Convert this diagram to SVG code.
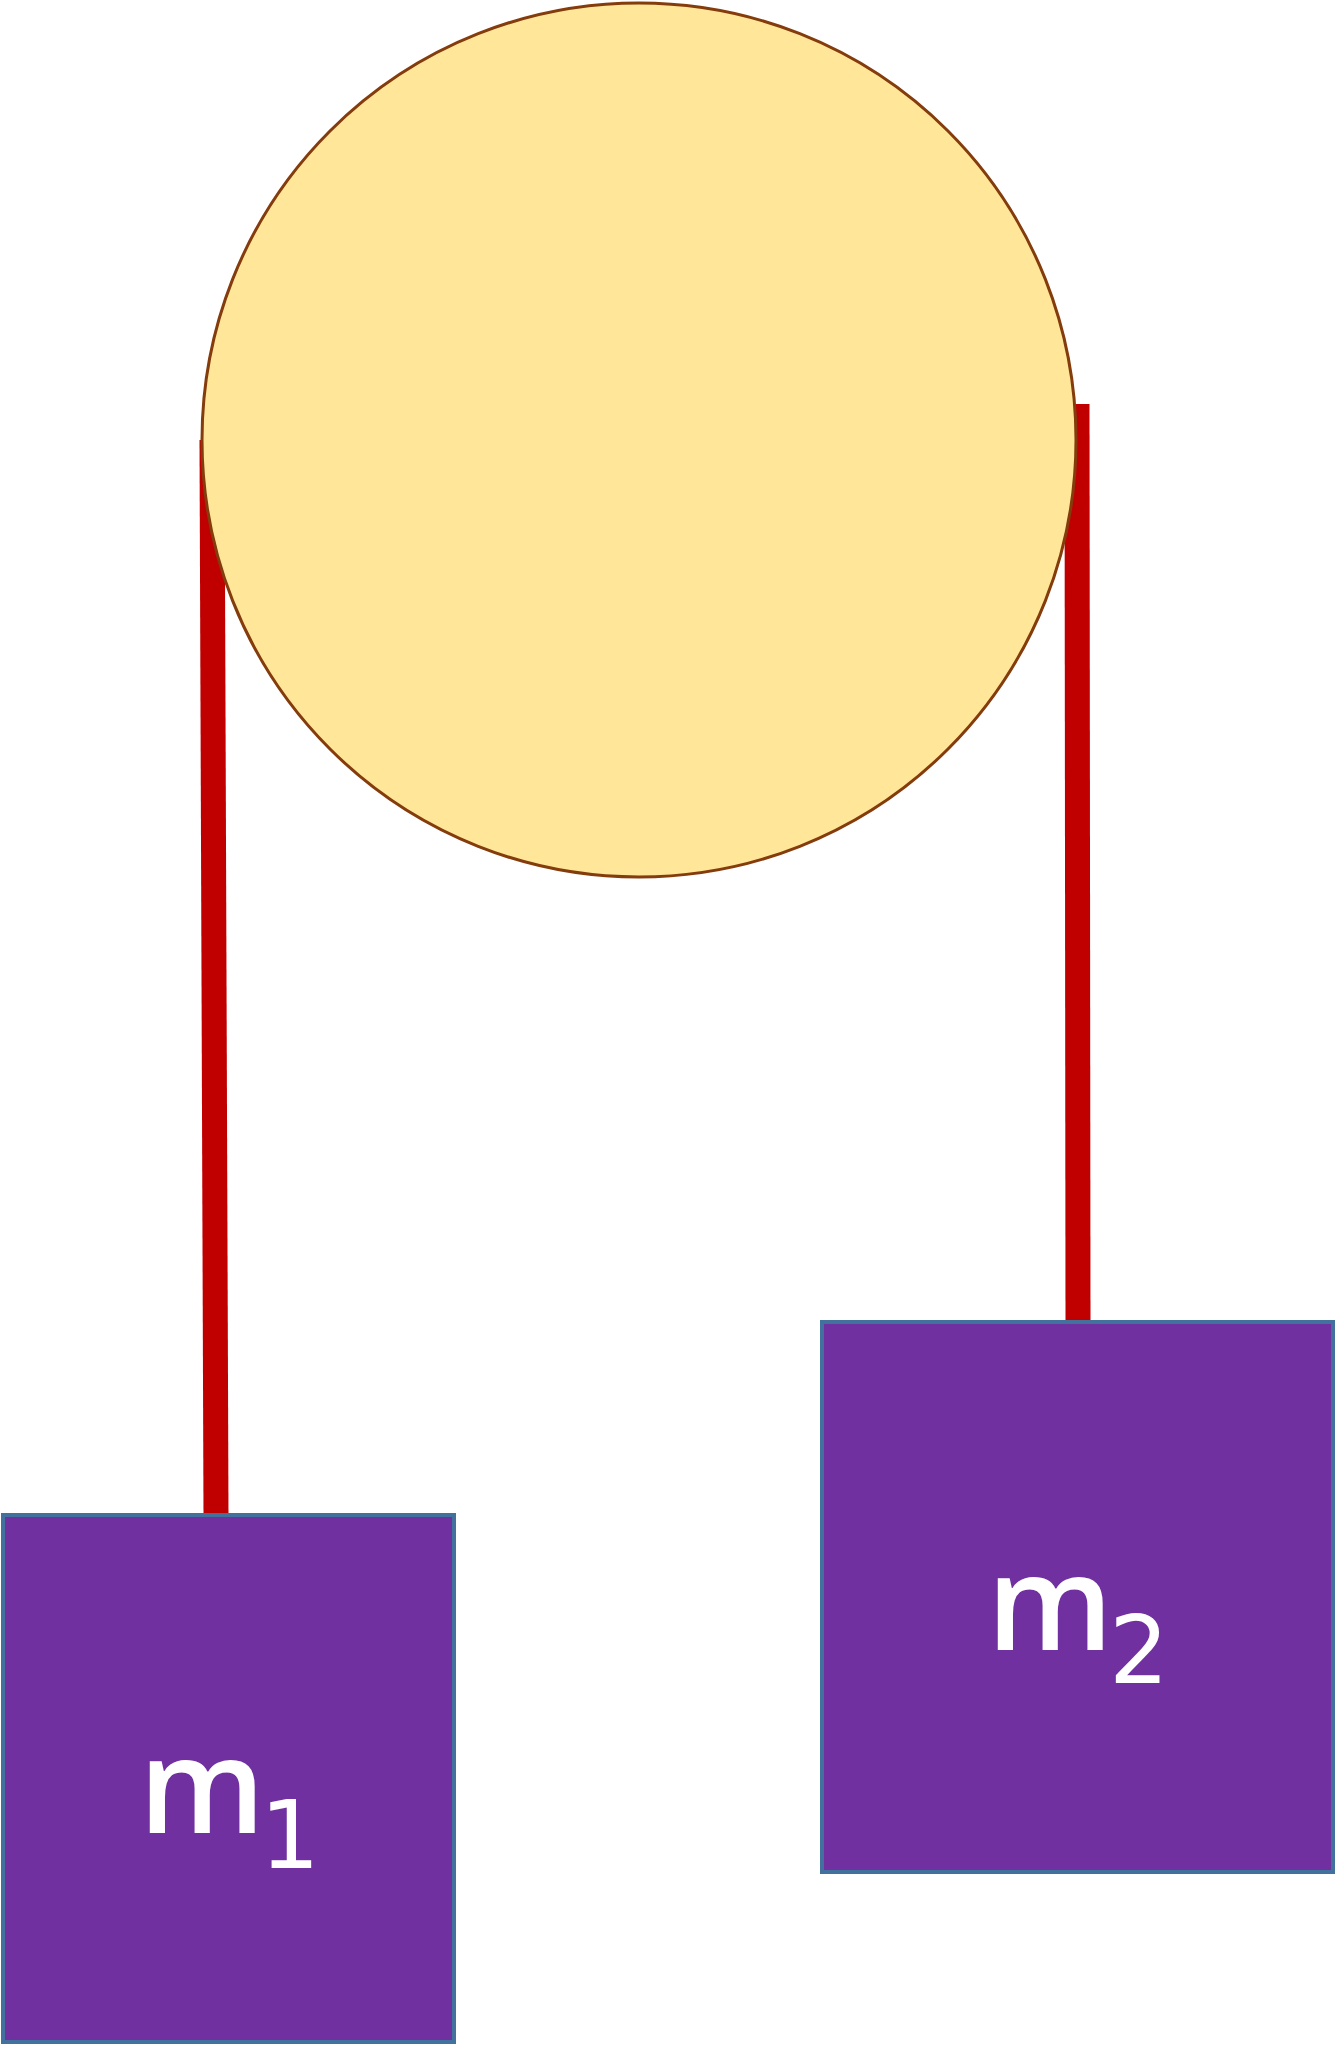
<svg xmlns="http://www.w3.org/2000/svg" width="1336" height="2046" viewBox="0 0 1336 2046">
<style>
.rope{stroke:#C00000;stroke-width:25;stroke-linecap:butt;fill:none}
.mass{fill:#7030A0;stroke:#41719C;stroke-width:4}
.lbl{font-family:"Open Sans","Liberation Sans",sans-serif;font-size:132px;font-weight:600;fill:#FFFFFF}
.sub{font-family:"DejaVu Sans","Liberation Sans",sans-serif;font-size:94px;font-weight:normal;fill:#FFFFFF}
</style>
<rect x="0" y="0" width="1336" height="2046" fill="#FFFFFF"/>
<g id="connectors">
<line class="rope" x1="212" y1="440" x2="216" y2="1515"/>
<line class="rope" x1="1077" y1="404" x2="1078" y2="1322"/>
</g>
<g id="pulley">
<circle cx="639" cy="440" r="437" fill="#FFE699" stroke="#843C0C" stroke-width="3"/>
</g>
<g id="m1">
<rect class="mass" x="3" y="1515" width="451" height="527"/>
<text class="lbl" x="139" y="1833">m</text>
<text class="sub" x="260" y="1868">1</text>
</g>
<g id="m2">
<rect class="mass" x="822" y="1322" width="511" height="550"/>
<text class="lbl" x="987" y="1650">m</text>
<text class="sub" x="1109" y="1683">2</text>
</g>
</svg>
